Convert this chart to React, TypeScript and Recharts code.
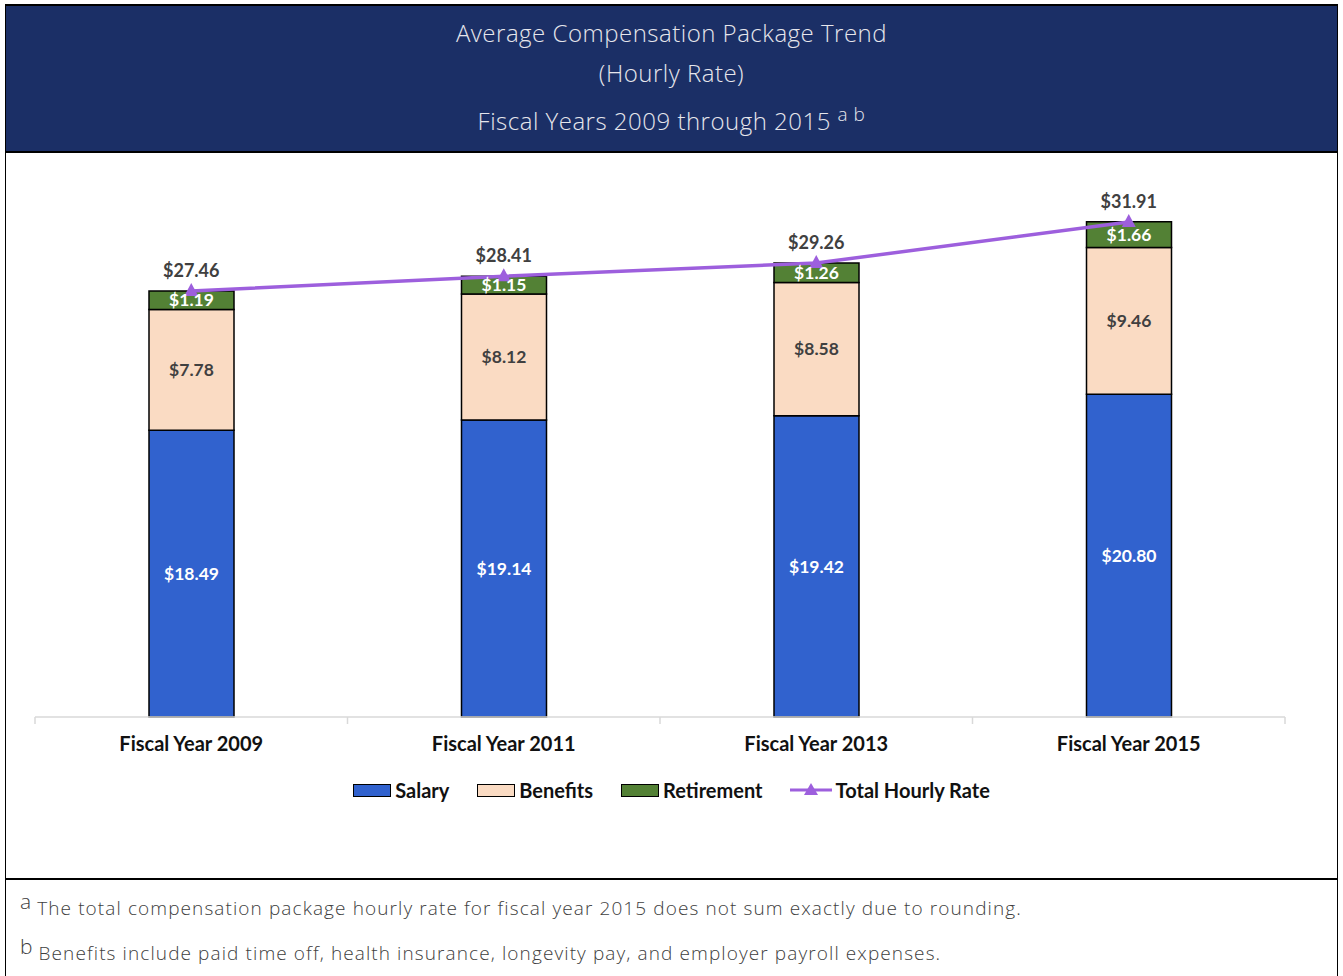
import React from "react";
import { ComposedChart, Bar, Line, XAxis, YAxis, LabelList, Legend } from "recharts";

const categories = ["Fiscal Year 2009", "Fiscal Year 2011", "Fiscal Year 2013", "Fiscal Year 2015"];
const salary = [18.49, 19.14, 19.42, 20.8];
const benefits = [7.78, 8.12, 8.58, 9.46];
const retirement = [1.19, 1.15, 1.26, 1.66];
const totals = [27.46, 28.41, 29.26, 31.91];

const data = categories.map((c, i) => ({
  name: c,
  salary: salary[i],
  benefits: benefits[i],
  retirement: retirement[i],
  total: totals[i],
}));

const SALARY = "#3162CE";
const BENEFITS = "#FADBC3";
const RETIRE = "#538135";
const LINEC = "#9D5FDD";
const FONT = "Lato, 'Open Sans', sans-serif";
const THIN = "'Open Sans', 'Noto Sans', sans-serif";

const CHART_W = 1343;
const CHART_H = 720;
const M = { top: 21, right: 58, left: 35, bottom: 0 };
const XH = 156;
const BAND = (CHART_W - M.left - M.right) / categories.length;

const fmt = (v: any) => `$${Number(v).toFixed(2)}`;

const CatTick = (props: any) => {
  const { x, y, payload, index } = props;
  const isLast = index === categories.length - 1;
  return (
    <g>
      <line x1={x - BAND / 2} x2={x - BAND / 2} y1={y - 8} y2={y - 1} stroke="#D9D9D9" strokeWidth={1.5} />
      {isLast && (
        <line x1={x + BAND / 2} x2={x + BAND / 2} y1={y - 8} y2={y - 1} stroke="#D9D9D9" strokeWidth={1.5} />
      )}
      <text x={x} y={y + 26} textAnchor="middle" fontFamily={FONT} fontWeight={700} fontSize={20} fill="#111">
        {payload.value}
      </text>
    </g>
  );
};

const Triangle = (props: any) => {
  const { cx, cy } = props;
  if (cx == null || cy == null) return null;
  return <path d={`M${cx},${cy - 8} L${cx + 7},${cy + 5} L${cx - 7},${cy + 5} Z`} fill={LINEC} />;
};

const LegendContent = () => {
  const item = (swatch: React.ReactNode, label: string, gap: number) => (
    <div style={{ display: "flex", alignItems: "center", marginRight: gap }}>
      {swatch}
      <span style={{ marginLeft: 4, fontFamily: FONT, fontWeight: 700, fontSize: 20, color: "#111" }}>{label}</span>
    </div>
  );
  const box = (c: string) => (
    <div style={{ width: 36, height: 11, background: c, border: "1px solid #000" }} />
  );
  return (
    <div style={{ display: "flex", justifyContent: "center", alignItems: "center", width: CHART_W }}>
      {item(box(SALARY), "Salary", 28)}
      {item(box(BENEFITS), "Benefits", 28)}
      {item(box(RETIRE), "Retirement", 27)}
      {item(
        <svg width={42} height={16}>
          <line x1={0} x2={42} y1={8} y2={8} stroke={LINEC} strokeWidth={3} />
          <path d="M21,1 L28,13 L14,13 Z" fill={LINEC} />
        </svg>,
        "Total Hourly Rate",
        0
      )}
    </div>
  );
};

export default function App() {
  const foot: React.CSSProperties = {
    position: "absolute",
    left: 20,
    fontFamily: THIN,
    fontWeight: 300,
    fontSize: 19,
    letterSpacing: 1.1,
    color: "#404040",
    whiteSpace: "nowrap",
  };
  return (
    <div style={{ position: "absolute", left: 0, top: 0, width: 1343, height: 976, background: "#fff", overflow: "hidden" }}>
      <div
        style={{
          position: "absolute",
          left: 5,
          top: 4,
          width: 1331,
          height: 980,
          borderLeft: "1px solid #000",
          borderRight: "1px solid #000",
          borderTop: "2px solid #000",
        }}
      />
      <div
        style={{
          position: "absolute",
          left: 6,
          top: 6,
          width: 1331,
          height: 145,
          background: "#1B2F66",
          borderBottom: "2px solid #000",
          color: "#E6E6EC",
          fontFamily: THIN,
          fontWeight: 300,
          fontSize: 24,
          letterSpacing: 0.5,
          textAlign: "center",
        }}
      >
        <div style={{ position: "absolute", top: 10, width: "100%" }}>Average Compensation Package Trend</div>
        <div style={{ position: "absolute", top: 50, width: "100%" }}>(Hourly Rate)</div>
        <div style={{ position: "absolute", top: 98, width: "100%" }}>
          Fiscal Years 2009 through 2015 <span style={{ fontSize: 19, position: "relative", top: -9 }}>a b</span>
        </div>
      </div>
      <div style={{ position: "absolute", left: 0, top: 153 }}>
        <ComposedChart width={CHART_W} height={CHART_H} data={data} margin={M}>
          <XAxis
            dataKey="name"
            height={XH}
            axisLine={{ stroke: "#D9D9D9", strokeWidth: 1.5 }}
            tickLine={false}
            tick={<CatTick />}
            interval={0}
          />
          <YAxis hide domain={[0, 35]} />
          <Legend
            layout="horizontal"
            verticalAlign="middle"
            align="center"
            content={<LegendContent />}
            wrapperStyle={{ top: 625, left: 0, width: CHART_W }}
          />
          <Bar dataKey="salary" name="Salary" stackId="a" fill={SALARY} stroke="#000" strokeWidth={1.5} barSize={85} isAnimationActive={false}>
            <LabelList dataKey="salary" position="center" formatter={fmt} fill="#fff" fontFamily={FONT} fontWeight={700} fontSize={17.5} />
          </Bar>
          <Bar dataKey="benefits" name="Benefits" stackId="a" fill={BENEFITS} stroke="#000" strokeWidth={1.5} barSize={85} isAnimationActive={false}>
            <LabelList dataKey="benefits" position="center" formatter={fmt} fill="#404040" fontFamily={FONT} fontWeight={700} fontSize={17.5} />
          </Bar>
          <Bar dataKey="retirement" name="Retirement" stackId="a" fill={RETIRE} stroke="#000" strokeWidth={1.5} barSize={85} isAnimationActive={false}>
            <LabelList dataKey="retirement" position="center" formatter={fmt} fill="#fff" fontFamily={FONT} fontWeight={700} fontSize={17.5} />
          </Bar>
          <Line
            dataKey="total"
            name="Total Hourly Rate"
            stroke={LINEC}
            strokeWidth={3.5}
            dot={<Triangle />}
            activeDot={false}
            isAnimationActive={false}
          >
            <LabelList dataKey="total" position="top" offset={14} formatter={fmt} fill="#404040" fontFamily={FONT} fontWeight={700} fontSize={18} />
          </Line>
        </ComposedChart>
      </div>
      <div style={{ position: "absolute", left: 5, top: 878, width: 1333, height: 2, background: "#000" }} />
      <div style={{ ...foot, top: 893 }}>
        <span style={{ fontSize: 21, position: "relative", top: -6, letterSpacing: 0 }}>a</span> The total compensation package hourly rate for fiscal year 2015 does not sum exactly due to rounding.
      </div>
      <div style={{ ...foot, top: 938 }}>
        <span style={{ fontSize: 21, position: "relative", top: -6, letterSpacing: 0 }}>b</span> Benefits include paid time off, health insurance, longevity pay, and employer payroll expenses.
      </div>
    </div>
  );
}
